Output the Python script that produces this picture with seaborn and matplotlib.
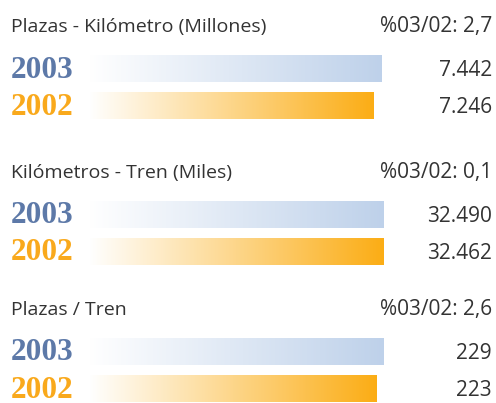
import numpy as np
import pandas as pd
import matplotlib
matplotlib.use("Agg")
import matplotlib.pyplot as plt
import seaborn as sns
from matplotlib.colors import LinearSegmentedColormap

# data
titles = ["Plazas - Kilómetro (Millones)", "Kilómetros - Tren (Miles)", "Plazas / Tren"]
changes = ["%03/02: 2,7", "%03/02: 0,1", "%03/02: 2,6"]
years = ["2003", "2002"]
values = [[7.442, 7.246], [32.490, 32.462], [229, 223]]
value_labels = [["7.442", "7.246"], ["32.490", "32.462"], ["229", "223"]]

sns.set_style("white")
plt.rcParams["font.family"] = ["Open Sans", "DejaVu Sans"]

W, H = 496, 403
fig = plt.figure(figsize=(W / 100, H / 100), dpi=100)

year_colors = {"2003": "#5d79a8", "2002": "#f9a91c"}
bar_cmaps = {
    "2003": LinearSegmentedColormap.from_list("b", ["#ffffff", "#bed1ea"]),
    "2002": LinearSegmentedColormap.from_list("o", ["#ffffff", "#fbad15"]),
}
text_color = "#333333"

# panel layout in pixels: top of axes, axes spans x 89..384
panel_tops = [50, 196, 333]
x0, x1 = 89, 384
pitch = 37
xmax = [7.518, 32.490, 229]


def fy(py):
    return 1 - py / H


for i in range(3):
    top = panel_tops[i]
    ax = fig.add_axes([x0 / W, 1 - (top + 2 * pitch) / H, (x1 - x0) / W, 2 * pitch / H])
    df = pd.DataFrame({"year": years, "value": values[i]})
    sns.barplot(data=df, x="value", y="year", orient="h", width=27 / 37,
                color="white", ax=ax)
    ax.set_xlim(0, xmax[i])
    ax.set_ylim(1.5, -0.5)
    ax.axis("off")

    # gradient fill clipped to each bar
    grad = np.linspace(0, 1, 256).reshape(1, -1)
    for patch, yr in zip(ax.patches, years):
        bx, by = patch.get_x(), patch.get_y()
        bw, bh = patch.get_width(), patch.get_height()
        im = ax.imshow(grad, cmap=bar_cmaps[yr], aspect="auto",
                       extent=[bx, bx + bw, by + bh, by], zorder=2)
        im.set_clip_path(patch)

    # titles
    ty = fy(top - 18)
    fig.text(11 / W, ty, titles[i], fontsize=14, color=text_color, va="baseline", ha="left")
    fig.text(492 / W, ty, changes[i], fontsize=15, color=text_color, va="baseline", ha="right")

    for j, yr in enumerate(years):
        cy = top + pitch / 2 + j * pitch
        fig.text(11 / W, fy(cy + 9), yr, fontsize=22.5, fontweight="bold",
                 family="Liberation Serif", color=year_colors[yr],
                 va="baseline", ha="left")
        fig.text(492 / W, fy(cy + 7.5), value_labels[i][j], fontsize=15,
                 color=text_color, va="baseline", ha="right")

fig.savefig("out.png", dpi=100)
